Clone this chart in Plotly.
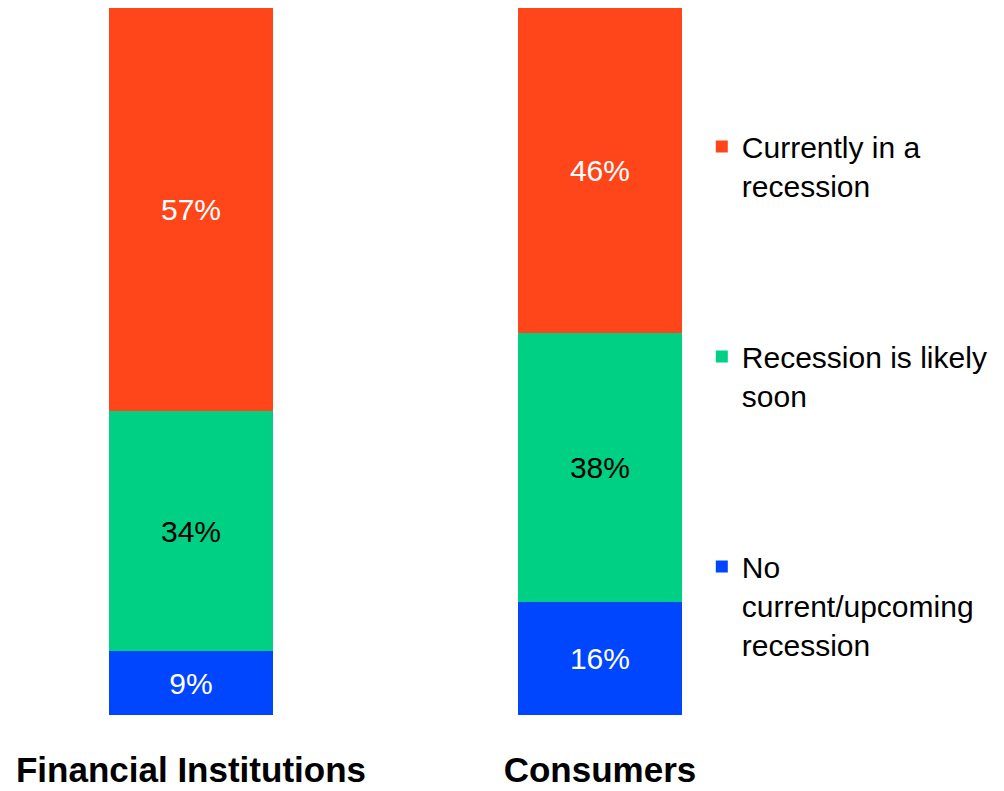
import plotly.graph_objects as go

# Survey groups and answer shares (%)
groups = ["Financial Institutions", "Consumers"]
no_recession = [9, 16]
likely_soon = [34, 38]
currently_in = [57, 46]

# (legend label, values, bar colour, label colour, legend rank)
series = [
    ("No<br>current/upcoming<br>recession", no_recession, "#0046FF", "white", 3),
    ("Recession is likely<br>soon", likely_soon, "#00D084", "black", 2),
    ("Currently in a<br>recession", currently_in, "#FF461B", "white", 1),
]

fig = go.Figure()
for i, (name, vals, color, txtcolor, rank) in enumerate(series):
    fig.add_trace(go.Bar(
        x=groups,
        y=vals,
        name=name,
        legendgroup=f"g{i}",
        legendrank=rank,
        marker=dict(color=color, line=dict(width=0)),
        width=0.401,
        text=[f"{v}%" for v in vals],
        textposition="inside",
        insidetextanchor="middle",
        constraintext="none",
        textfont=dict(family="Liberation Sans, Arial, sans-serif", size=30, color=txtcolor),
        hoverinfo="skip",
    ))

fig.update_layout(
    barmode="stack",
    width=1004,
    height=791,
    margin=dict(l=0, r=0, t=8, b=76, autoexpand=False),
    paper_bgcolor="white",
    plot_bgcolor="white",
    font=dict(family="Liberation Sans, Arial, sans-serif", color="black"),
    showlegend=True,
    legend=dict(
        x=0.699, xanchor="left",
        y=0.841, yanchor="top",
        traceorder="grouped",
        tracegroupgap=129,
        valign="top",
        font=dict(size=30, color="black"),
        bgcolor="rgba(0,0,0,0)",
        borderwidth=0,
    ),
    xaxis=dict(
        range=[-0.467, 1.988],
        automargin=False,
        showgrid=False, zeroline=False, showline=False,
        ticks="",
        ticklabelstandoff=31,
        tickfont=dict(family="Liberation Sans, Arial, sans-serif", size=35, color="black", weight="bold"),
    ),
    yaxis=dict(
        range=[0, 100],
        visible=False,
        automargin=False,
        showgrid=False, zeroline=False,
    ),
)

fig.write_html("out.html")
